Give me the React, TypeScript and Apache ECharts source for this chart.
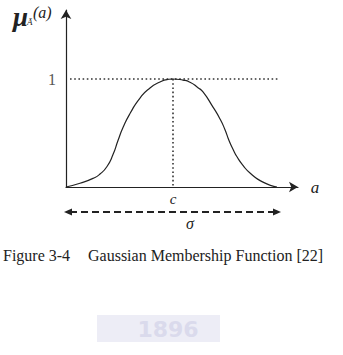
import React, { useEffect, useRef } from "react";
import * as echarts from "echarts";

const aValues = [0, 1.4, 2.7, 3.4, 4.1, 4.7, 5.2, 5.7, 6.4, 7.4, 8.4, 9.4, 10.1, 10.7, 11.7, 12.4, 13.2, 13.7, 14.7, 15.4, 15.9, 16.3, 16.7, 17.1, 17.7, 18.4, 19.7, 21.1];
const muValues = [0.0, 0.035, 0.08, 0.12, 0.19, 0.3, 0.43, 0.55, 0.68, 0.824, 0.917, 0.972, 0.995, 1.0, 0.99, 0.97, 0.92, 0.88, 0.74, 0.63, 0.53, 0.43, 0.35, 0.28, 0.2, 0.13, 0.045, 0.0];
const centerA = 10.7;
const dottedStart = 0.4;
const dottedEnd = 21.4;
const yTickLabels = ["1"];
const captionLeft = "Figure 3-4";
const captionRight = "Gaussian Membership Function [22]";
const watermarkYear = "1896";

export default function App() {
  const ref = useRef<HTMLDivElement>(null);
  useEffect(() => {
    document.body.style.margin = "0";
    const chart = echarts.init(ref.current!, null, { renderer: "svg" });
    const serif = "'Liberation Serif', 'Times New Roman', serif";
    const curve = aValues.map((a, i) => [a, muValues[i]]);
    chart.setOption({
      animation: false,
      backgroundColor: "#ffffff",
      grid: { left: 66, top: 10, width: 232, height: 177 },
      xAxis: {
        type: "value",
        min: 0,
        max: 23.2,
        axisLine: {
          show: true,
          symbol: ["none", "arrow"],
          symbolSize: [8, 9],
          lineStyle: { color: "#222", width: 1.2 },
        },
        axisTick: { show: false },
        axisLabel: { show: false },
        splitLine: { show: false },
      },
      yAxis: {
        type: "value",
        min: 0,
        max: 1.639,
        interval: 1,
        axisLine: {
          show: true,
          symbol: ["none", "arrow"],
          symbolSize: [8, 9],
          lineStyle: { color: "#222", width: 1.2 },
        },
        axisTick: { show: false },
        axisLabel: {
          show: true,
          showMinLabel: false,
          showMaxLabel: false,
          margin: 10,
          fontFamily: serif,
          fontSize: 16,
          color: "#555",
          formatter: (v: number) => (Math.abs(v - 1) < 1e-6 ? yTickLabels[0] : ""),
        },
        splitLine: { show: false },
      },
      series: [
        {
          type: "line",
          data: curve,
          smooth: 0.6,
          showSymbol: false,
          lineStyle: { color: "#222", width: 1.2 },
          z: 3,
        },
        {
          type: "line",
          data: [[dottedStart, 1], [dottedEnd, 1]],
          showSymbol: false,
          lineStyle: { color: "#333", width: 1.6, type: [1.6, 2.6] },
          z: 2,
        },
        {
          type: "line",
          data: [[centerA, 1], [centerA, 0]],
          showSymbol: false,
          lineStyle: { color: "#333", width: 1.6, type: [1.6, 2.6] },
          z: 2,
        },
      ],
      graphic: [
        {
          type: "rect",
          shape: { x: 97, y: 315, width: 123, height: 27 },
          z: -20,
          style: { fill: "#ededf6" },
        },
        {
          type: "text",
          x: 168,
          y: 329,
          z: -10,
          style: {
            text: watermarkYear,
            font: "bold 22px 'DejaVu Sans', sans-serif",
            fill: "#dadaec",
            align: "center",
            verticalAlign: "middle",
          },
        },
        {
          type: "text",
          x: 13,
          y: 3,
          style: { text: "μ", font: "bold italic 27px " + serif, fill: "#222" },
        },
        {
          type: "text",
          x: 27,
          y: 17,
          style: { text: "Ã", font: "italic 9px " + serif, fill: "#222" },
        },
        {
          type: "text",
          x: 33,
          y: 4,
          style: { text: "(a)", font: "italic 16px " + serif, fill: "#222" },
        },
        {
          type: "text",
          x: 315,
          y: 187,
          style: { text: "a", font: "italic 17px " + serif, fill: "#222", align: "center", verticalAlign: "middle" },
        },
        {
          type: "text",
          x: 173,
          y: 199,
          style: { text: "c", font: "italic 15px " + serif, fill: "#222", align: "center", verticalAlign: "middle" },
        },
        {
          type: "text",
          x: 190,
          y: 223,
          style: { text: "σ", font: "italic 16px " + serif, fill: "#222", align: "center", verticalAlign: "middle" },
        },
        {
          type: "line",
          shape: { x1: 70, y1: 212, x2: 276, y2: 212 },
          style: { stroke: "#222", lineWidth: 2, lineDash: [7, 4] },
        },
        {
          type: "polygon",
          shape: { points: [[64, 212], [72, 208.5], [72, 215.5]] },
          style: { fill: "#222" },
        },
        {
          type: "polygon",
          shape: { points: [[281, 212], [273, 208.5], [273, 215.5]] },
          style: { fill: "#222" },
        },
        {
          type: "text",
          x: 3,
          y: 255,
          style: { text: captionLeft, font: "16px " + serif, fill: "#222", verticalAlign: "middle" },
        },
        {
          type: "text",
          x: 88,
          y: 255,
          style: { text: captionRight, font: "16px " + serif, fill: "#222", verticalAlign: "middle" },
        },
      ],
    });
    return () => chart.dispose();
  }, []);
  return <div ref={ref} style={{ width: 343, height: 355 }} />;
}
